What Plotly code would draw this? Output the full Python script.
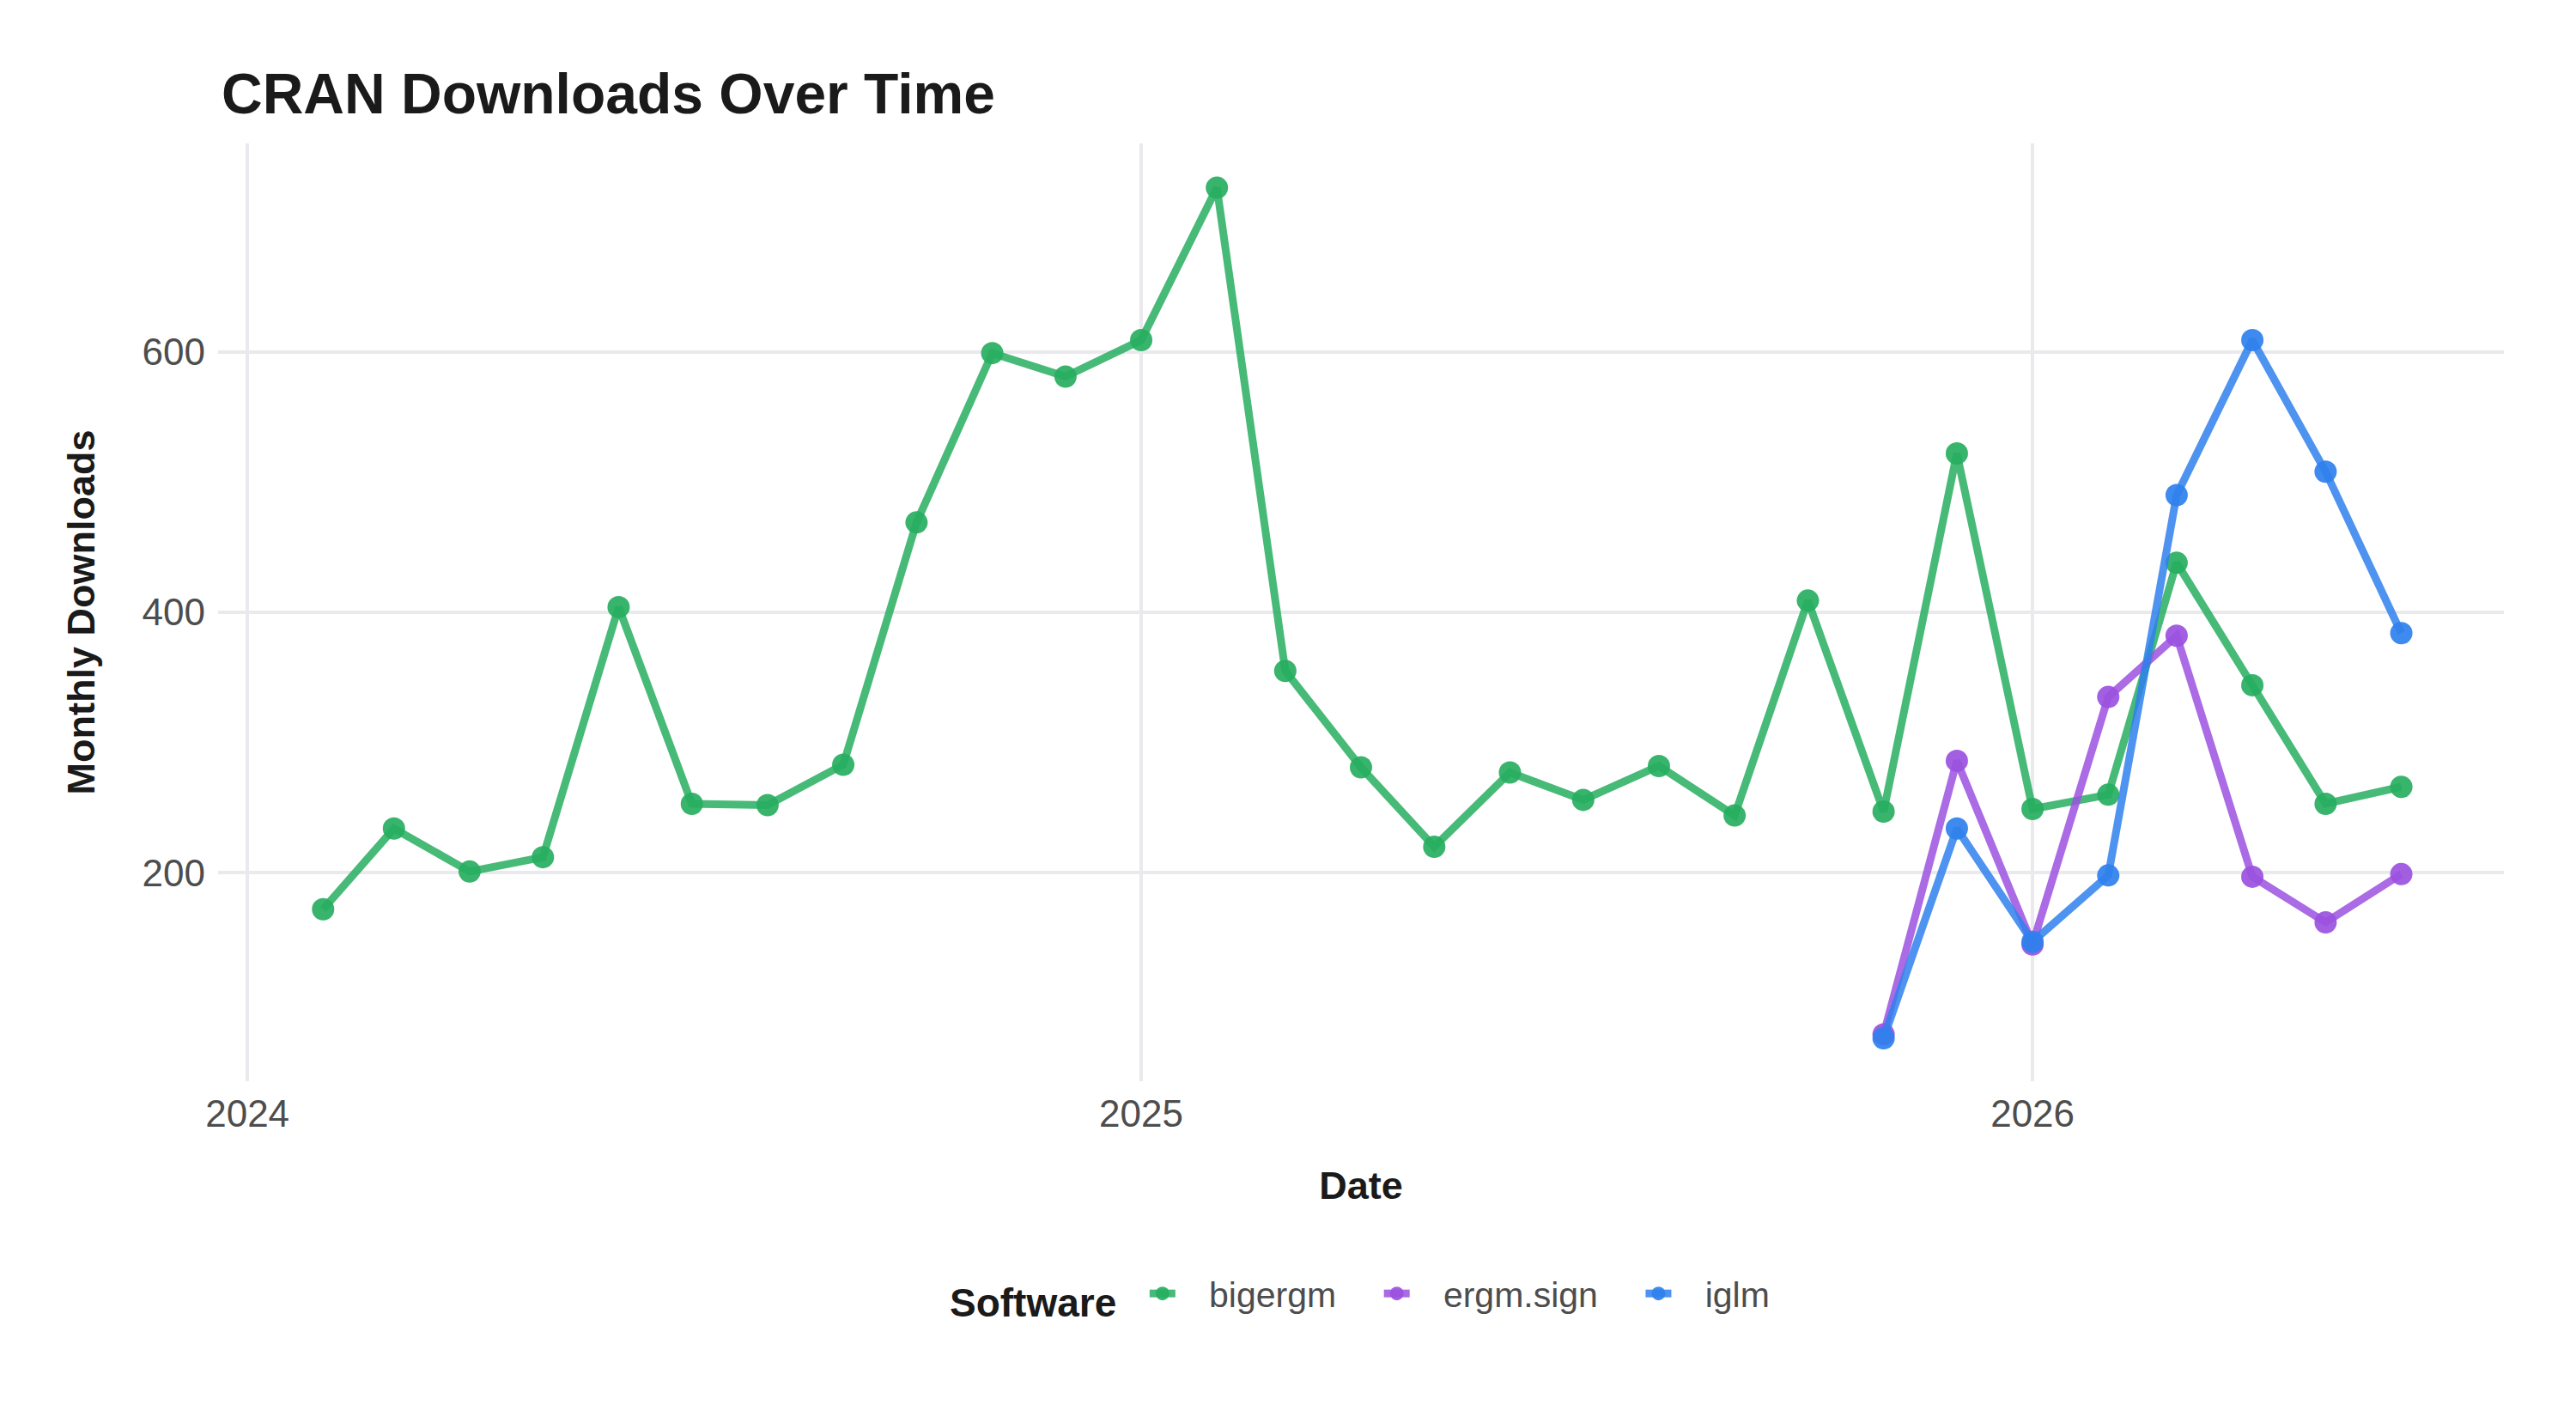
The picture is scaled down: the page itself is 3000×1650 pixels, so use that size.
import plotly.graph_objects as go

# ---- data ----
bigergm_dates = [
    "2024-02-01", "2024-03-01", "2024-04-01", "2024-05-01", "2024-06-01", "2024-07-01",
    "2024-08-01", "2024-09-01", "2024-10-01", "2024-11-01", "2024-12-01", "2025-01-01",
    "2025-02-01", "2025-03-01", "2025-04-01", "2025-05-01", "2025-06-01", "2025-07-01",
    "2025-08-01", "2025-09-01", "2025-10-01", "2025-11-01", "2025-12-01", "2026-01-01",
    "2026-02-01", "2026-03-01", "2026-04-01", "2026-05-01", "2026-06-01",
]
bigergm_values = [172, 234, 201, 212, 404, 253, 252, 283, 469, 599, 581, 609,
                  726, 355, 281, 220, 277, 256, 282, 244, 409, 247, 522, 249,
                  260, 438, 344, 253, 266]

new_dates = ["2025-11-01", "2025-12-01", "2026-01-01", "2026-02-01",
             "2026-03-01", "2026-04-01", "2026-05-01", "2026-06-01"]
ergm_sign_values = [76, 286, 145, 335, 382, 197, 162, 199]
iglm_values = [73, 234, 147, 198, 490, 609, 508, 384]

series_names = ["bigergm", "ergm.sign", "iglm"]
series_colors = [(39, 174, 96), (155, 81, 224), (47, 128, 237)]

x_tick_vals = ["2024-01-01", "2025-01-01", "2026-01-01"]
x_tick_text = ["2024", "2025", "2026"]
y_tick_vals = [200, 400, 600]

FONT = "Liberation Sans, Arial, Helvetica, sans-serif"
NB = "\u00a0"

fig = go.Figure()
for i, (name, xs, ys, (r, g, b)) in enumerate(zip(
    series_names,
    [bigergm_dates, new_dates, new_dates],
    [bigergm_values, ergm_sign_values, iglm_values],
    series_colors,
)):
    trail = NB * 4 if i < len(series_names) - 1 else ""
    fig.add_trace(go.Scatter(
        x=xs, y=ys, name=NB * 3 + name + trail, mode="lines+markers",
        line=dict(color=f"rgba({r},{g},{b},0.85)", width=9),
        marker=dict(color=f"rgba({r},{g},{b},0.92)", size=26, line=dict(width=0)),
    ))

fig.update_layout(
    width=3000, height=1650,
    paper_bgcolor="white", plot_bgcolor="white",
    margin=dict(l=254, r=84, t=167, b=391, autoexpand=False),
    font=dict(family=FONT, color="#4d4d4d", size=44),
    title=dict(
        text="<b>CRAN Downloads Over Time</b>",
        font=dict(family=FONT, size=66, color="#1a1a1a"),
        x=0, xref="paper", xanchor="left", pad=dict(l=4),
        y=1 - 109 / 1650, yref="container", yanchor="middle",
    ),
    xaxis=dict(
        type="date",
        range=["2023-12-20", "2026-07-13"],
        tickvals=x_tick_vals, ticktext=x_tick_text,
        showgrid=True, gridcolor="#E9E9EE", gridwidth=4,
        zeroline=False, showline=False, ticks="",
        tickfont=dict(size=44, color="#4d4d4d"),
        ticklabelstandoff=8,
        title=dict(text="<b>Date</b>", font=dict(size=45, color="#1a1a1a"), standoff=44),
        automargin=False,
    ),
    yaxis=dict(
        range=[40, 760],
        tickvals=y_tick_vals,
        showgrid=True, gridcolor="#E9E9EE", gridwidth=4,
        zeroline=False, showline=False, ticks="",
        tickfont=dict(size=44, color="#4d4d4d"),
        ticklabelstandoff=14,
        title=dict(text="<b>Monthly Downloads</b>", font=dict(size=45, color="#1a1a1a"), standoff=40),
        automargin=False,
    ),
    legend=dict(
        orientation="h", x=0.5, xanchor="center",
        y=(1259 - 1508) / 1092, yanchor="middle",
        title=dict(text="<b>Software</b>" + NB * 2, font=dict(size=46, color="#1a1a1a")),
        font=dict(size=41, color="#4d4d4d"),
    ),
    showlegend=True,
)

fig.write_html("out.html")
